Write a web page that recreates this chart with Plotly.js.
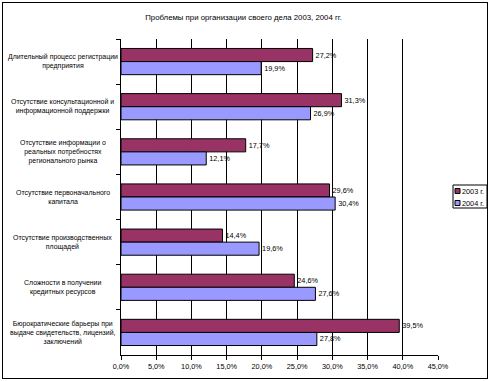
<!DOCTYPE html>
<html><head><meta charset="utf-8">
<script src="https://cdn.plot.ly/plotly-3.0.1.min.js"></script>
<style>
html,body{margin:0;padding:0;background:#fff;}
#wrap{position:relative;width:490px;height:381px;}
#chart{width:490px;height:381px;}
#frame{position:absolute;left:2px;top:2px;width:484px;height:375px;border:1px solid #000;pointer-events:none;}
</style></head>
<body><div id="wrap"><div id="chart"></div><div id="frame"></div></div>
<script>
const categories = [
  "Длительный процесс регистрации<br>предприятия",
  "Отсутствие консультационной и<br>информационной поддержки",
  "Отсутствие информации о<br>реальных потребностях<br>регионального рынка",
  "Отсутствие первоначального<br>капитала",
  "Отсутствие производственных<br>площадей",
  "Сложности в получении<br>кредитных ресурсов",
  "Бюрократические барьеры при<br>выдаче свидетельств, лицензий,<br>заключений"
];
const seriesNames = ["2003 г.", "2004 г."];
const values2003 = [27.2, 31.3, 17.7, 29.6, 14.4, 24.6, 39.5];
const values2004 = [19.9, 26.9, 12.1, 30.4, 19.6, 27.6, 27.8];
const tickValues = [0, 5, 10, 15, 20, 25, 30, 35, 40, 45];
const tickLabels = ["0,0%", "5,0%", "10,0%", "15,0%", "20,0%", "25,0%", "30,0%", "35,0%", "40,0%", "45,0%"];
const colors = ["#993366", "#9999FF"];

const FONT = "'Liberation Sans', Arial, sans-serif";
const FS = 7.3;

function barTrace(name, vals, color) {
  return {
    type: "bar", orientation: "h", name: name,
    y: categories, x: vals,
    marker: {color: color, line: {color: "#000", width: 1}},
    texttemplate: "%{x:.1f}%", textposition: "outside",
    textfont: {family: FONT, size: FS, color: "#000"},
    cliponaxis: false, hoverinfo: "skip", showlegend: false
  };
}
const data = [
  barTrace(seriesNames[0], values2003, colors[0]),
  barTrace(seriesNames[1], values2004, colors[1])
];

const W = 317, H = 316, L = 121, T = 39;
function px(x){ return (x - L) / W; }
function py(y){ return (T + H - y) / H; }

const annotations = categories.map(c => ({
  xref: "paper", yref: "y", x: px(62.5), y: c, text: c,
  showarrow: false, xanchor: "center", yanchor: "middle", align: "center",
  font: {family: FONT, size: 6.95, color: "#000"}
}));
const legendRows = [191, 203];
const shapes = [
  {type: "rect", xref: "paper", yref: "paper", x0: px(453), x1: px(487), y0: py(208), y1: py(185),
   line: {color: "#000", width: 1}, fillcolor: "#fff"}
];
seriesNames.forEach((n, i) => {
  const yc = legendRows[i];
  shapes.push({type: "rect", xref: "paper", yref: "paper", x0: px(455), x1: px(460), y0: py(yc + 2.5), y1: py(yc - 2.5),
    line: {color: "#000", width: 1}, fillcolor: colors[i]});
  annotations.push({xref: "paper", yref: "paper", x: px(460.5), y: py(yc), text: n, showarrow: false,
    xanchor: "left", yanchor: "middle", borderpad: 0, font: {family: FONT, size: FS, color: "#000"}});
});

const layout = {
  width: 490, height: 381,
  margin: {l: L, r: 490 - L - W, t: T, b: 381 - T - H, pad: 0},
  paper_bgcolor: "#fff", plot_bgcolor: "#fff",
  title: {text: "Проблемы при организации своего дела 2003, 2004 гг.", x: 0.497, xanchor: "center", y: 0.955, yanchor: "middle",
    font: {family: FONT, size: 7.8, color: "#000"}},
  separators: ", ",
  barmode: "group", bargap: 0.42, bargroupgap: 0,
  xaxis: {range: [0, 45], tickvals: tickValues, ticktext: tickLabels,
    showgrid: true, gridcolor: "#000", gridwidth: 1, zeroline: false,
    showline: true, linecolor: "#000", linewidth: 1,
    ticks: "outside", ticklen: 4, tickcolor: "#000",
    tickfont: {family: FONT, size: FS, color: "#000"}, fixedrange: true},
  yaxis: {autorange: "reversed", type: "category", showticklabels: false,
    showline: true, linecolor: "#000", linewidth: 1,
    ticks: "outside", tickson: "boundaries", ticklen: 4, tickcolor: "#000",
    showgrid: false, zeroline: false, fixedrange: true},
  font: {family: FONT, size: FS, color: "#000"},
  annotations: annotations, shapes: shapes, showlegend: false
};
Plotly.newPlot("chart", data, layout, {staticPlot: true, displayModeBar: false});
</script></body></html>
